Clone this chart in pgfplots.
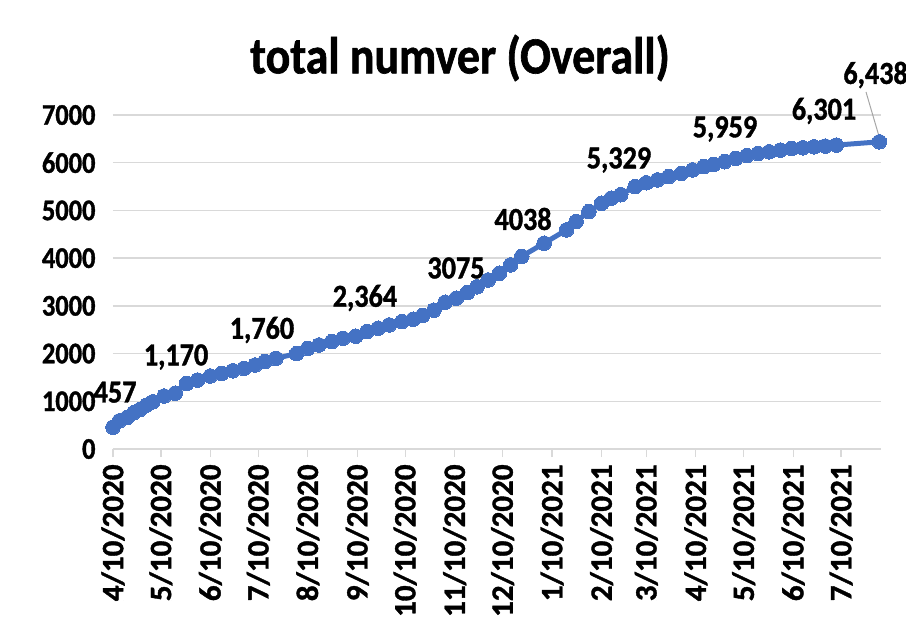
\documentclass[border=0pt]{standalone}
\usepackage{pgfplots}
\pgfplotsset{compat=1.18}
\usepackage{fontspec}
\setmainfont{Carlito}[FakeStretch=0.88, BoldFeatures={FakeBold=1.2}]
\newfontfamily\rotfont{Carlito}[BoldFeatures={FakeBold=1.2}]
\definecolor{lineblue}{HTML}{4472C4}
\definecolor{gridgray}{HTML}{D9D9D9}
\definecolor{leader}{HTML}{A6A6A6}

\pgfplotstableread{
day value
0 457
4 590
9 665
13 760
17 830
21 920
25 990
32 1110
39 1170
46 1370
53 1445
61 1530
68 1585
75 1640
82 1690
89 1760
95 1830
102 1900
115 2000
122 2110
129 2180
137 2250
144 2320
152 2364
159 2460
166 2530
173 2600
181 2670
188 2720
194 2800
201 2910
208 3075
215 3160
222 3280
228 3400
235 3543
242 3683
249 3857
256 4038
270 4312
284 4591
290 4765
298 4975
306 5151
312 5256
318 5329
327 5499
334 5580
341 5640
348 5708
356 5777
363 5848
370 5917
376 5959
383 6021
390 6090
397 6150
404 6194
411 6229
418 6265
425 6301
432 6313
439 6333
446 6348
453 6369
480 6438
}\datatable

\begin{document}
\begin{tikzpicture}[x=1pt,y=1pt]
\useasboundingbox (-113,-181) rectangle (793,449);
\begin{axis}[
  at={(0,0)}, anchor=south west,
  scale only axis, width=768pt, height=334pt,
  xmin=0, xmax=481, ymin=0, ymax=7000,
  enlargelimits=false, clip=false,
  axis x line*=bottom, axis y line*=left,
  y axis line style={draw=none},
  ytick style={draw=none},
  x axis line style={gridgray, line width=1.3pt},
  xtick style={gridgray, line width=1.3pt},
  tick align=outside, major tick length=8pt,
  ymajorgrids, grid style={gridgray, line width=1.3pt},
  ytick={0,1000,...,7000},
  /pgf/number format/assume math mode=true,
  /pgf/number format/1000 sep={},
  yticklabel style={font=\fontsize{30}{30}\selectfont\bfseries, anchor=east, xshift=-6pt},
  xtick={0,30,61,91,122,153,183,214,244,275,306,334,365,395,426,456},
  xticklabels={4/10/2020,5/10/2020,6/10/2020,7/10/2020,8/10/2020,9/10/2020,10/10/2020,11/10/2020,12/10/2020,1/10/2021,2/10/2021,3/10/2021,4/10/2021,5/10/2021,6/10/2021,7/10/2021},
  xticklabel style={rotate=90, anchor=east, font=\rotfont\fontsize{31}{31}\selectfont\bfseries, xshift=-4pt},
]
\addplot[lineblue, line width=5pt, line join=round, mark=*, mark size=7.3pt,
  mark options={fill=lineblue, draw=lineblue, line width=0pt}] table[x=day, y=value] {\datatable};
\begin{scope}[every node/.style={font=\fontsize{32}{32}\selectfont\bfseries}]
\node at (axis cs:1.3,1190) {457};
\node at (axis cs:39.5,1928) {1,170};
\node at (axis cs:93.3,2494) {1,760};
\node at (axis cs:157.8,3165) {2,364};
\node at (axis cs:214.8,3794) {3075};
\node at (axis cs:256.8,4821) {4038};
\node at (axis cs:316.9,6057) {5,329};
\node at (axis cs:383.3,6707) {5,959};
\node at (axis cs:445.3,7085) {6,301};
\node at (axis cs:477.6,7839) {6,438};
\end{scope}
\draw[leader, line width=1pt] (axis cs:471.6,7483) -- (axis cs:479.7,6560);
\end{axis}
\node[font=\fontsize{52}{52}\selectfont\bfseries] at (347,391) {total numver (Overall)};
\end{tikzpicture}
\end{document}
